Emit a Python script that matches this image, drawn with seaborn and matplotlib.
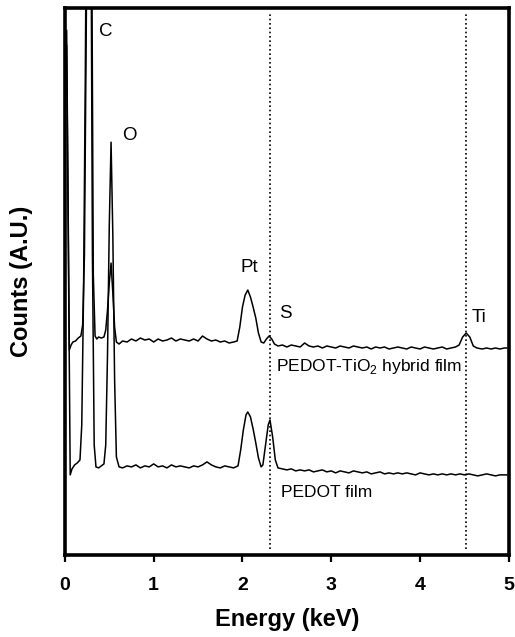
import numpy as np
import pandas as pd
import matplotlib
matplotlib.use("Agg")
import matplotlib.pyplot as plt
import seaborn as sns

# EDS spectra (energy in keV, counts in arbitrary units)
energy_hybrid = [0.02, 0.05, 0.07, 0.09, 0.12, 0.15, 0.18, 0.20, 0.22, 0.24, 0.26, 0.28, 0.30, 0.32, 0.34,
                 0.36, 0.38, 0.41, 0.44, 0.46, 0.48, 0.50, 0.52, 0.54, 0.56, 0.58, 0.61,
                 0.65, 0.70, 0.75, 0.80, 0.85, 0.90, 0.95, 1.00, 1.05, 1.10, 1.15, 1.20, 1.25, 1.30,
                 1.35, 1.40, 1.45, 1.50, 1.55, 1.60, 1.65, 1.70, 1.75, 1.80, 1.85, 1.90, 1.94,
                 1.97, 2.00, 2.03, 2.06, 2.09, 2.12, 2.15, 2.18, 2.21, 2.24, 2.27, 2.30, 2.33, 2.36, 2.40,
                 2.45, 2.50, 2.55, 2.60, 2.65, 2.70, 2.75, 2.80, 2.85, 2.90, 2.95, 3.00, 3.05, 3.10,
                 3.15, 3.20, 3.25, 3.30, 3.35, 3.40, 3.45, 3.50, 3.55, 3.60, 3.65, 3.70, 3.75, 3.80,
                 3.85, 3.90, 3.95, 4.00, 4.05, 4.10, 4.15, 4.20, 4.25, 4.30, 4.35, 4.40, 4.44, 4.48,
                 4.52, 4.56, 4.60, 4.64, 4.70, 4.75, 4.80, 4.85, 4.90, 4.95, 4.98]
counts_hybrid = [525, 205, 210, 213, 214, 217, 219, 230, 300, 520, 760, 860, 660, 280, 219,
                 216, 218, 217, 218, 225, 245, 272, 292, 262, 228, 213, 211,
                 214, 213, 216, 214, 217, 215, 216, 213, 216, 214, 215, 217, 214, 216,
                 215, 214, 216, 214, 219, 216, 214, 215, 213, 214, 212, 213, 214,
                 228, 248, 260, 265, 258, 248, 237, 222, 213, 212, 216, 219, 216, 211, 209,
                 210, 208, 210, 209, 208, 212, 209, 208, 209, 207, 209, 208, 207, 209,
                 208, 207, 209, 208, 207, 208, 206, 208, 207, 208, 206, 207, 208, 207,
                 206, 208, 207, 206, 208, 207, 206, 207, 208, 206, 207, 208, 210, 218,
                 222, 218, 209, 207, 206, 207, 206, 207, 206, 207, 207]

energy_pedot = [0.02, 0.06, 0.08, 0.11, 0.14, 0.17, 0.19, 0.21, 0.23, 0.25, 0.27, 0.29, 0.31, 0.33, 0.35,
                0.38, 0.41, 0.44, 0.46, 0.48, 0.50, 0.52, 0.54, 0.56, 0.58, 0.61,
                0.65, 0.70, 0.75, 0.80, 0.85, 0.90, 0.95, 1.00, 1.05, 1.10, 1.15, 1.20, 1.25, 1.30,
                1.35, 1.40, 1.45, 1.50, 1.55, 1.60, 1.65, 1.70, 1.75, 1.80, 1.85, 1.90, 1.95,
                1.98, 2.01, 2.04, 2.06, 2.09, 2.12, 2.15, 2.18, 2.21, 2.23, 2.26, 2.29, 2.31, 2.34, 2.37, 2.40,
                2.45, 2.50, 2.55, 2.60, 2.65, 2.70, 2.75, 2.80, 2.85, 2.90, 2.95, 3.00, 3.05, 3.10,
                3.15, 3.20, 3.25, 3.30, 3.35, 3.40, 3.45, 3.50, 3.55, 3.60, 3.65, 3.70, 3.75, 3.80,
                3.85, 3.90, 3.95, 4.00, 4.05, 4.10, 4.15, 4.20, 4.25, 4.30, 4.35, 4.40, 4.45, 4.50,
                4.55, 4.60, 4.65, 4.70, 4.75, 4.80, 4.85, 4.90, 4.95, 4.98]
counts_pedot = [510, 80, 86, 90, 92, 95, 130, 260, 480, 760, 900, 720, 300, 110, 88,
                87, 89, 91, 110, 200, 330, 413, 320, 175, 98, 88,
                87, 89, 88, 90, 87, 89, 88, 91, 88, 89, 87, 90, 88, 89,
                88, 87, 89, 88, 90, 93, 90, 88, 87, 89, 88, 87, 89,
                105, 125, 140, 143, 138, 126, 112, 97, 88, 90, 110, 130, 135, 118, 95, 87,
                86, 85, 86, 84, 85, 84, 85, 83, 84, 85, 83, 84, 82, 84,
                83, 82, 84, 83, 82, 83, 81, 82, 83, 81, 82, 81, 82, 81,
                82, 81, 80, 82, 81, 80, 81, 80, 81, 80, 81, 80, 81, 80,
                81, 80, 79, 80, 81, 80, 79, 80, 80, 80]

peak_labels = ["C", "O", "Pt", "S", "Ti"]
peak_label_x = [0.46, 0.73, 2.08, 2.48, 4.66]
peak_label_y = [524, 420, 288, 242, 238]
marker_lines = [2.31, 4.52]

sns.set_style("ticks")
plt.rcParams["font.family"] = ["Liberation Sans", "DejaVu Sans"]
plt.rcParams["mathtext.fontset"] = "custom"
plt.rcParams["mathtext.rm"] = "Liberation Sans"
plt.rcParams["text.color"] = "black"
plt.rcParams["axes.labelcolor"] = "black"
plt.rcParams["xtick.color"] = "black"
plt.rcParams["axes.edgecolor"] = "black"

fig = plt.figure(figsize=(5.15, 6.37), dpi=100)
ax = fig.add_axes([0.126, 0.129, 0.862, 0.858])

sns.lineplot(x=energy_hybrid, y=counts_hybrid, color="black", lw=1.1,
             estimator=None, sort=False, ax=ax)
sns.lineplot(x=energy_pedot, y=counts_pedot, color="black", lw=1.1,
             estimator=None, sort=False, ax=ax)

for xv in marker_lines:
    ax.axvline(xv, ymin=0.01, ymax=0.99, color="black", lw=1.2, ls=(0, (1, 1.6)))

for lab, xx, yy in zip(peak_labels, peak_label_x, peak_label_y):
    ax.text(xx, yy, lab, fontsize=13.5, ha="center", va="center", color="black")

ax.text(2.38, 188, "PEDOT-TiO$_2$ hybrid film", fontsize=12.5, ha="left", va="center", color="black")
ax.text(2.43, 62, "PEDOT film", fontsize=12.5, ha="left", va="center", color="black")

ax.set_xlim(0, 5)
ax.set_ylim(0, 547)
ax.set_xticks([0, 1, 2, 3, 4, 5])
ax.set_yticks([])
ax.tick_params(axis="x", direction="out", length=5, width=1.6, labelsize=14,
               pad=11, colors="black")
for t in ax.get_xticklabels():
    t.set_fontweight("bold")
for sp in ax.spines.values():
    sp.set_linewidth(2.6)
    sp.set_color("black")
    sp.set_visible(True)

ax.set_xlabel("Energy (keV)", fontsize=17, fontweight="bold", labelpad=10)
ax.set_ylabel("Counts (A.U.)", fontsize=17, fontweight="bold", labelpad=23)

fig.savefig("out.png", dpi=100, facecolor="white")
